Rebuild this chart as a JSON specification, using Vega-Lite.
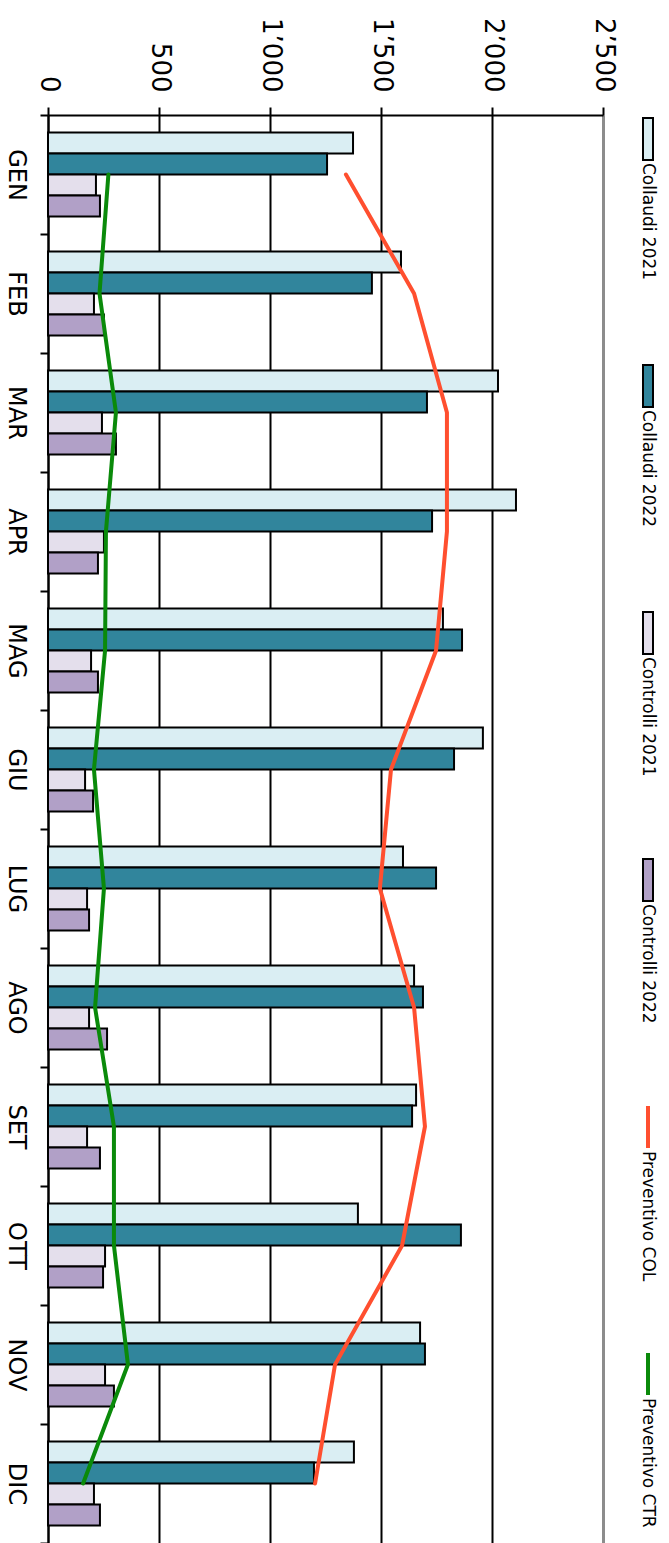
{
  "$schema": "https://vega.github.io/schema/vega-lite/v6.json",
  "padding": 0,
  "autosize": {"type": "pad"},
  "bounds": "flush",
  "spacing": 30,
  "background": "white",
  "config": {"view": {"stroke": null}, "font": "DejaVu Sans"},
  "datasets": {
    "bars": [
      {"month": "GEN", "series": "Collaudi 2021", "value": 1374},
      {"month": "FEB", "series": "Collaudi 2021", "value": 1590},
      {"month": "MAR", "series": "Collaudi 2021", "value": 2027},
      {"month": "APR", "series": "Collaudi 2021", "value": 2108},
      {"month": "MAG", "series": "Collaudi 2021", "value": 1779},
      {"month": "GIU", "series": "Collaudi 2021", "value": 1959},
      {"month": "LUG", "series": "Collaudi 2021", "value": 1599},
      {"month": "AGO", "series": "Collaudi 2021", "value": 1649},
      {"month": "SET", "series": "Collaudi 2021", "value": 1658},
      {"month": "OTT", "series": "Collaudi 2021", "value": 1396},
      {"month": "NOV", "series": "Collaudi 2021", "value": 1676},
      {"month": "DIC", "series": "Collaudi 2021", "value": 1378},
      {"month": "GEN", "series": "Collaudi 2022", "value": 1257},
      {"month": "FEB", "series": "Collaudi 2022", "value": 1459},
      {"month": "MAR", "series": "Collaudi 2022", "value": 1707},
      {"month": "APR", "series": "Collaudi 2022", "value": 1730},
      {"month": "MAG", "series": "Collaudi 2022", "value": 1865},
      {"month": "GIU", "series": "Collaudi 2022", "value": 1829},
      {"month": "LUG", "series": "Collaudi 2022", "value": 1748},
      {"month": "AGO", "series": "Collaudi 2022", "value": 1689},
      {"month": "SET", "series": "Collaudi 2022", "value": 1640},
      {"month": "OTT", "series": "Collaudi 2022", "value": 1860},
      {"month": "NOV", "series": "Collaudi 2022", "value": 1698},
      {"month": "DIC", "series": "Collaudi 2022", "value": 1198},
      {"month": "GEN", "series": "Controlli 2021", "value": 216},
      {"month": "FEB", "series": "Controlli 2021", "value": 207},
      {"month": "MAR", "series": "Controlli 2021", "value": 243},
      {"month": "APR", "series": "Controlli 2021", "value": 252},
      {"month": "MAG", "series": "Controlli 2021", "value": 194},
      {"month": "GIU", "series": "Controlli 2021", "value": 167},
      {"month": "LUG", "series": "Controlli 2021", "value": 176},
      {"month": "AGO", "series": "Controlli 2021", "value": 185},
      {"month": "SET", "series": "Controlli 2021", "value": 176},
      {"month": "OTT", "series": "Controlli 2021", "value": 257},
      {"month": "NOV", "series": "Controlli 2021", "value": 257},
      {"month": "DIC", "series": "Controlli 2021", "value": 207},
      {"month": "GEN", "series": "Controlli 2022", "value": 234},
      {"month": "FEB", "series": "Controlli 2022", "value": 252},
      {"month": "MAR", "series": "Controlli 2022", "value": 306},
      {"month": "APR", "series": "Controlli 2022", "value": 225},
      {"month": "MAG", "series": "Controlli 2022", "value": 225},
      {"month": "GIU", "series": "Controlli 2022", "value": 203},
      {"month": "LUG", "series": "Controlli 2022", "value": 185},
      {"month": "AGO", "series": "Controlli 2022", "value": 266},
      {"month": "SET", "series": "Controlli 2022", "value": 234},
      {"month": "OTT", "series": "Controlli 2022", "value": 248},
      {"month": "NOV", "series": "Controlli 2022", "value": 297},
      {"month": "DIC", "series": "Controlli 2022", "value": 234}
    ],
    "lines": [
      {"month": "GEN", "series": "Preventivo COL", "value": 1342},
      {"month": "FEB", "series": "Preventivo COL", "value": 1649},
      {"month": "MAR", "series": "Preventivo COL", "value": 1797},
      {"month": "APR", "series": "Preventivo COL", "value": 1797},
      {"month": "MAG", "series": "Preventivo COL", "value": 1748},
      {"month": "GIU", "series": "Preventivo COL", "value": 1545},
      {"month": "LUG", "series": "Preventivo COL", "value": 1495},
      {"month": "AGO", "series": "Preventivo COL", "value": 1649},
      {"month": "SET", "series": "Preventivo COL", "value": 1698},
      {"month": "OTT", "series": "Preventivo COL", "value": 1595},
      {"month": "NOV", "series": "Preventivo COL", "value": 1293},
      {"month": "DIC", "series": "Preventivo COL", "value": 1203},
      {"month": "GEN", "series": "Preventivo CTR", "value": 272},
      {"month": "FEB", "series": "Preventivo CTR", "value": 232},
      {"month": "MAR", "series": "Preventivo CTR", "value": 306},
      {"month": "APR", "series": "Preventivo CTR", "value": 261},
      {"month": "MAG", "series": "Preventivo CTR", "value": 257},
      {"month": "GIU", "series": "Preventivo CTR", "value": 207},
      {"month": "LUG", "series": "Preventivo CTR", "value": 252},
      {"month": "AGO", "series": "Preventivo CTR", "value": 212},
      {"month": "SET", "series": "Preventivo CTR", "value": 297},
      {"month": "OTT", "series": "Preventivo CTR", "value": 297},
      {"month": "NOV", "series": "Preventivo CTR", "value": 360},
      {"month": "DIC", "series": "Preventivo CTR", "value": 158}
    ],
    "legend": [
      {"series": "Collaudi 2021"},
      {"series": "Collaudi 2022"},
      {"series": "Controlli 2021"},
      {"series": "Controlli 2022"},
      {"series": "Preventivo COL"},
      {"series": "Preventivo CTR"}
    ]
  },
  "hconcat": [
    {
      "width": 555,
      "height": 1428,
      "layer": [
        {
          "data": {"name": "bars"},
          "mark": {"type": "bar", "stroke": "black", "strokeWidth": 2},
          "encoding": {
            "y": {
              "field": "month", "type": "nominal",
              "sort": ["GEN","FEB","MAR","APR","MAG","GIU","LUG","AGO","SET","OTT","NOV","DIC"],
              "scale": {"paddingInner": 0, "paddingOuter": 0},
              "axis": {
                "orient": "left", "title": null, "grid": false,
                "domainColor": "black", "domainWidth": 2,
                "tickColor": "black", "tickWidth": 2, "tickSize": 8, "tickBand": "extent",
                "labelAngle": 90, "labelAlign": "center", "labelBaseline": "top",
                "labelPadding": 13, "labelFont": "DejaVu Sans", "labelFontSize": 24,
                "labelColor": "black", "minExtent": 48, "maxExtent": 48
              }
            },
            "yOffset": {
              "field": "series", "type": "nominal",
              "sort": ["Collaudi 2021","Collaudi 2022","Controlli 2021","Controlli 2022"],
              "scale": {"paddingInner": 0, "paddingOuter": 0.833}
            },
            "x": {
              "field": "value", "type": "quantitative",
              "scale": {"domain": [0, 2500], "nice": false},
              "axis": {
                "orient": "top", "title": null,
                "values": [0, 500, 1000, 1500, 2000, 2500],
                "grid": true,
                "gridColor": {"condition": {"test": "datum.value === 2500", "value": "#8c8c8c"}, "value": "black"},
                "gridWidth": {"condition": {"test": "datum.value === 2500", "value": 3}, "value": 2},
                "domainColor": "black", "domainWidth": 2,
                "tickColor": "black", "tickWidth": 2, "tickSize": 8,
                "labelAngle": 90, "labelAlign": "right", "labelBaseline": "middle",
                "labelPadding": 15, "labelFont": "DejaVu Sans", "labelFontSize": 26,
                "labelColor": "black", "labelFlush": false, "labelOverlap": false,
                "labelExpr": "replace(format(datum.value, ','), ',', '’')",
                "minExtent": 115, "maxExtent": 115
              }
            },
            "color": {
              "field": "series", "type": "nominal", "legend": null,
              "scale": {
                "domain": ["Collaudi 2021","Collaudi 2022","Controlli 2021","Controlli 2022","Preventivo COL","Preventivo CTR"],
                "range": ["#DAEEF3","#31859C","#E4DFEC","#B1A0C7","#FF4F2F","#0A8A0A"]
              }
            }
          }
        },
        {
          "data": {"name": "lines"},
          "mark": {"type": "line", "strokeWidth": 4, "strokeCap": "round", "strokeJoin": "round"},
          "encoding": {
            "y": {
              "field": "month", "type": "nominal",
              "sort": ["GEN","FEB","MAR","APR","MAG","GIU","LUG","AGO","SET","OTT","NOV","DIC"]
            },
            "x": {"field": "value", "type": "quantitative"},
            "color": {"field": "series", "type": "nominal", "legend": null},
            "order": {"value": null}
          }
        }
      ]
    },
    {
      "width": 30,
      "height": 1235,
      "data": {"name": "legend"},
      "encoding": {
        "y": {"field": "series", "type": "nominal", "sort": null, "scale": {"type": "point", "padding": 0}, "axis": null}
      },
      "layer": [
        {
          "transform": [{"filter": {"field": "series", "oneOf": ["Collaudi 2021","Collaudi 2022","Controlli 2021","Controlli 2022"]}}],
          "mark": {"type": "tick", "orient": "vertical", "thickness": 10, "size": 42, "stroke": "black", "strokeWidth": 2, "opacity": 1, "yOffset": 24},
          "encoding": {"color": {"field": "series", "type": "nominal", "legend": null}}
        },
        {
          "transform": [{"filter": {"field": "series", "oneOf": ["Preventivo COL","Preventivo CTR"]}}],
          "mark": {"type": "tick", "orient": "vertical", "thickness": 4, "size": 42, "opacity": 1, "yOffset": 24},
          "encoding": {"color": {"field": "series", "type": "nominal", "legend": null}}
        },
        {
          "mark": {"type": "text", "angle": 90, "align": "left", "baseline": "middle", "yOffset": 48, "fontSize": 17, "font": "DejaVu Sans", "color": "black"},
          "encoding": {"text": {"field": "series"}}
        }
      ]
    }
  ]
}
